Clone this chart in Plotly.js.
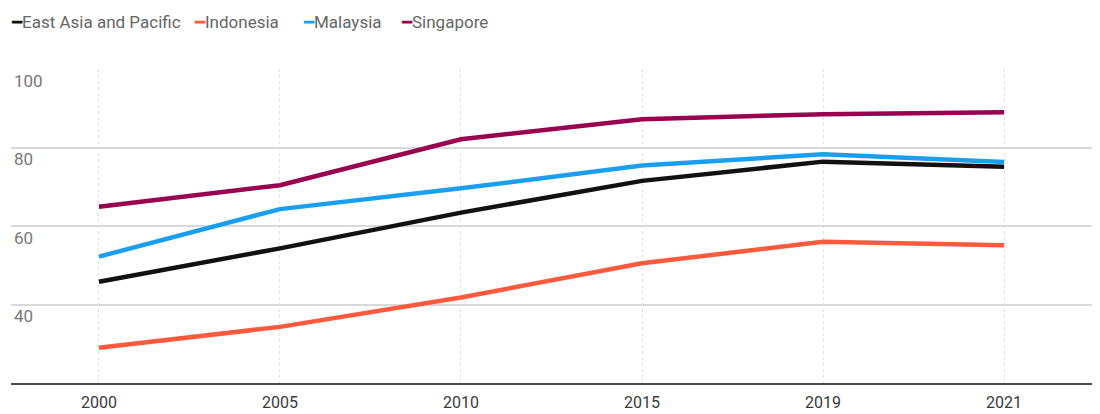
<!DOCTYPE html>
<html>
<head>
<meta charset="utf-8">
<script src="https://cdn.plot.ly/plotly-3.0.1.min.js"></script>
<style>
  html, body { margin: 0; padding: 0; background: #fff; }
  #chart { width: 1100px; height: 414px; }
</style>
</head>
<body>
<div id="chart"></div>
<script>
const years = ["2000", "2005", "2010", "2015", "2019", "2021"];
const seriesNames = ["East Asia and Pacific", "Indonesia", "Malaysia", "Singapore"];
const seriesColors = ["#111111", "#ff5a3d", "#1a9ff0", "#990050"];
const eastAsiaPacific = [45.8, 54.3, 63.4, 71.5, 76.4, 75.1];
const indonesia = [29.0, 34.3, 41.8, 50.5, 56.0, 55.1];
const malaysia = [52.2, 64.3, 69.6, 75.4, 78.3, 76.3];
const singapore = [64.9, 70.4, 82.1, 87.2, 88.5, 89.0];
const yTicks = [20, 40, 60, 80, 100];

const FONT = "Roboto, sans-serif";
const W = 1100, M = { l: 11, r: 8, t: 69, b: 31 };
const plotW = W - M.l - M.r;

const values = [eastAsiaPacific, indonesia, malaysia, singapore];
const traces = values.map((v, i) => ({
  x: years,
  y: v,
  type: "scatter",
  mode: "lines",
  name: seriesNames[i],
  line: { color: seriesColors[i], width: 4.5 },
  hoverinfo: "x+y+name",
}));

// legend drawn as annotations so the key line stays short
const legendX = [9, 192, 301, 399];
const annotations = seriesNames.map((name, i) => ({
  xref: "paper",
  yref: "paper",
  x: (legendX[i] - M.l) / plotW,
  y: 1 + (M.t - 22) / (414 - M.t - M.b),
  xanchor: "left",
  yanchor: "middle",
  showarrow: false,
  text: `<span style="color:${seriesColors[i]}">━</span>${name}`,
  font: { family: FONT, size: 17, color: "#666666" },
}));

Plotly.newPlot("chart", traces, {
  width: W,
  height: 414,
  margin: M,
  paper_bgcolor: "#fff",
  plot_bgcolor: "#fff",
  showlegend: false,
  font: { family: FONT },
  xaxis: {
    type: "category",
    range: [-0.486, 5.486],
    showgrid: true,
    gridcolor: "#e2e2e2",
    griddash: "dot",
    gridwidth: 1,
    showline: true,
    linecolor: "#4a4a4a",
    linewidth: 2,
    ticks: "outside",
    ticklen: 4,
    tickcolor: "rgba(0,0,0,0)",
    tickfont: { family: FONT, size: 16, color: "#3a3a3a" },
    fixedrange: true,
  },
  yaxis: {
    range: [20, 100],
    tickvals: yTicks,
    ticktext: yTicks.map((t) => (t === 20 ? "" : String(t))),
    ticklabelposition: "inside bottom",
    tickfont: { family: FONT, size: 17, color: "#777777" },
    gridcolor: "#d9d9d9",
    gridwidth: 2,
    zeroline: false,
    showline: false,
    ticks: "",
    fixedrange: true,
  },
  annotations,
}, { displayModeBar: false, responsive: false });
</script>
</body>
</html>
